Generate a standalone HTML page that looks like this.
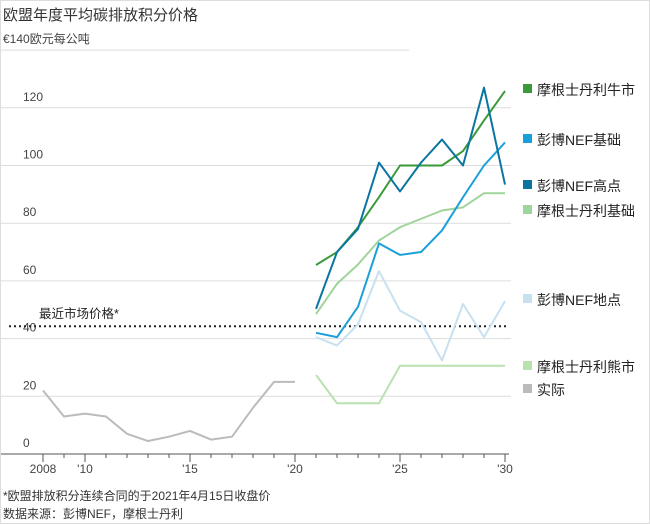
<!DOCTYPE html>
<html><head><meta charset="utf-8"><style>
body{margin:0;background:#fff;}
#wrap{position:relative;width:648px;height:522px;border:1px solid #ddd;font-family:"Liberation Sans","Noto Sans CJK SC",sans-serif;overflow:hidden;}
</style></head><body>
<div id="wrap">
<svg id="chart" width="648" height="522" style="position:absolute;left:0;top:0"></svg>
</div>
<script>
const years = [2021,2022,2023,2024,2025,2026,2027,2028,2029,2030];
const actualYears = [2008,2009,2010,2011,2012,2013,2014,2015,2016,2017,2018,2019,2020];
const actualVals = [22,13,14,13,7,4.5,6,8,5,6,16,25,25];
const msBull = [65.5,70,78.6,89,100,100,100,105,115.6,125.8];
const nefHigh = [50.3,70,78,101,91,101,109,100,127,93.4];
const nefBase = [42,40.5,51,73,69,70,77.5,89,100,108];
const msBase = [48.5,59,65.7,74,78.6,81.5,84.4,85.5,90.4,90.4];
const nefLow = [40.5,37.6,45,63.4,49.7,45.7,32.4,52,40.5,53];
const msBear = [27.4,17.6,17.6,17.6,30.6,30.6,30.6,30.6,30.6,30.6];
const marketPrice = 44.3;
const yTicks = [0,20,40,60,80,100,120,140];
const xTickLabels = [[2008,"2008"],[2010,"'10"],[2015,"'15"],[2020,"'20"],[2025,"'25"],[2030,"'30"]];
const legendItems = [
 ["摩根士丹利牛市","#3a9a3a",89,"legend-ms-bull"],
 ["彭博NEF基础","#1aa0d8",139,"legend-nef-base"],
 ["彭博NEF高点","#0a75a0",185,"legend-nef-high"],
 ["摩根士丹利基础","#9fd49a",210,"legend-ms-base"],
 ["彭博NEF地点","#c8e0f0",299,"legend-nef-low"],
 ["摩根士丹利熊市","#b8e2b0",366,"legend-ms-bear"],
 ["实际","#bbbbbb",389,"legend-actual"]
];
const svg=document.getElementById('chart');const NS='http://www.w3.org/2000/svg';
const x=yr=>42+(yr-2008)*21;
const y=v=>453-v*(57.7/20);
function mk(t,a){const e=document.createElementNS(NS,t);for(const k in a)e.setAttribute(k,a[k]);svg.appendChild(e);return e;}
function txt(s,a){const e=mk('text',a);e.textContent=s;return e;}
let e;
e=txt('欧盟年度平均碳排放积分价格',{x:2,y:19,'font-size':15,fill:'#333'});


yTicks.forEach(v=>{
 e=mk('line',{x1:0,x2:v===0?510:408,y1:y(v),y2:y(v),stroke:v===0?'#555':'#ddd','stroke-width':1});
 if(v===0)e.setAttribute('x2',508);
 
 
 if(v===140){e.setAttribute('x2',408);}else if(v>0){e.setAttribute('x2',510);}
 e=txt(v===140?'€140欧元每公吨':String(v),{x:v===140?2:(v===0?22:22),y:y(v)-7,'font-size':12,fill:'#444'});
 
 
});
for(let yr=2008;yr<=2030;yr++){
 const big=xTickLabels.some(t=>t[0]===yr);
 e=mk('line',{x1:x(yr),x2:x(yr),y1:453,y2:big?461:457,stroke:'#555'});
 
 
}
xTickLabels.forEach(t=>{
 e=txt(t[1],{x:x(t[0]),y:472,'font-size':12,fill:'#444','text-anchor':'middle'});
 
 
});
e=mk('line',{x1:8,x2:508,y1:y(marketPrice),y2:y(marketPrice),stroke:'#222','stroke-width':2,'stroke-dasharray':'2,3'});


e=txt('最近市场价格*',{x:38,y:y(marketPrice)-8,'font-size':12.5,fill:'#222'});


function series(xs,vals,color,w,name){
 const p=mk('polyline',{points:vals.map((v,i)=>x(xs[i])+','+y(v)).join(' '),fill:'none',stroke:color,'stroke-width':w,'stroke-linejoin':'round'});
 
 
}
series(actualYears,actualVals,'#bbbbbb',2,'series-actual');
series(years,msBear,'#b8e2b0',2,'series-ms-bear');
series(years,nefLow,'#c8e0f0',2,'series-nef-low');
series(years,msBase,'#9fd49a',2,'series-ms-base');
series(years,nefBase,'#1aa0d8',2,'series-nef-base');
series(years,msBull,'#3a9a3a',2,'series-ms-bull');
series(years,nefHigh,'#0a75a0',2,'series-nef-high');
legendItems.forEach(l=>{
 e=mk('rect',{x:522,y:l[2]-6,width:9,height:9,fill:l[1]});
 
 
 e=txt(l[0],{x:536,y:l[2]+5,'font-size':14,fill:'#222'});
 
 
});
e=txt('*欧盟排放积分连续合同的于2021年4月15日收盘价',{x:2,y:499,'font-size':12,fill:'#333'});


e=txt('数据来源：彭博NEF，摩根士丹利',{x:2,y:517,'font-size':12,fill:'#333'});


</script>
</body></html>
